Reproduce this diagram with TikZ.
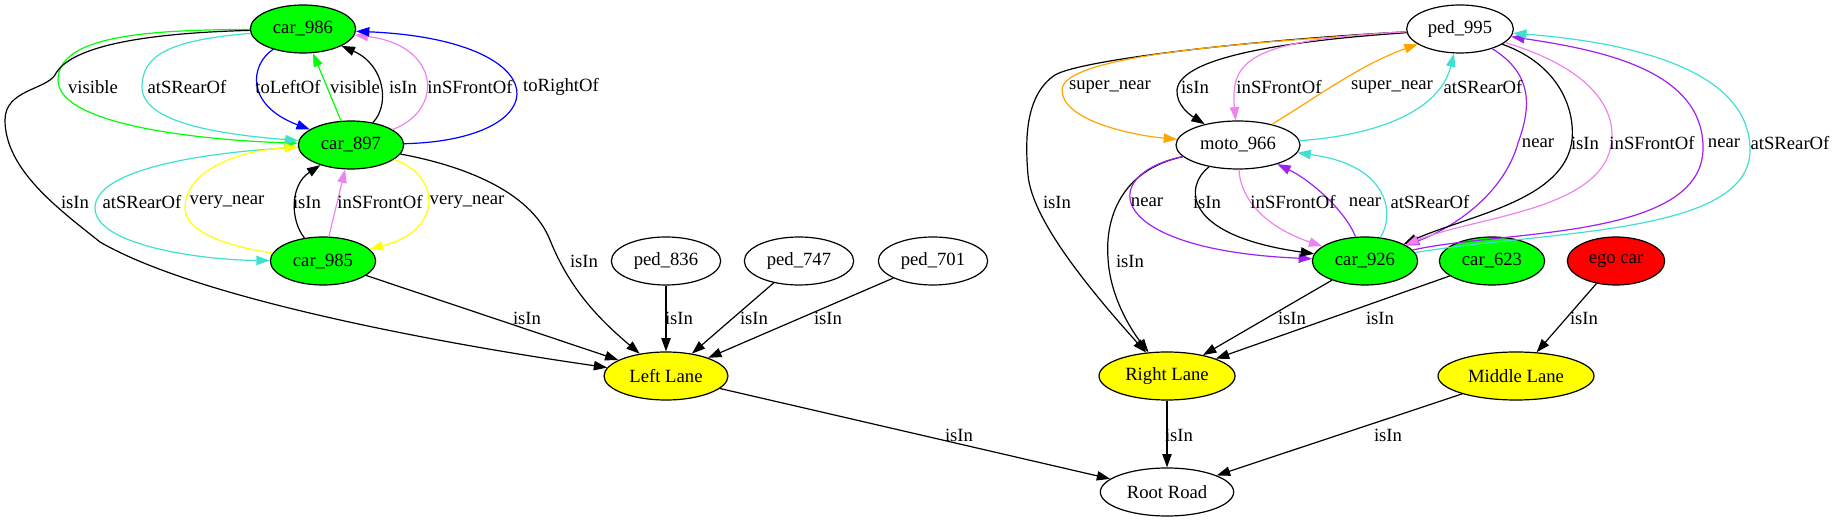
\documentclass[tikz,border=0pt]{standalone}
\usepackage{fontspec}
\setmainfont{Liberation Serif}
\newfontfamily\gvfont{Liberation Serif}
\usetikzlibrary{shapes.geometric,arrows.meta}
\definecolor{ggreen}{HTML}{00FF00}
\definecolor{gturq}{HTML}{40E0D0}
\definecolor{gviolet}{HTML}{EE82EE}
\definecolor{gpurple}{HTML}{A020F0}
\definecolor{gorange}{HTML}{FFA500}
\definecolor{gyellow}{HTML}{FFFF00}
\definecolor{gblue}{HTML}{0000FF}
\definecolor{gred}{HTML}{FF0000}
\tikzset{
  gnode/.style={ellipse, draw=black, line width=0.9pt, minimum height=36pt, inner sep=0pt,
    font=\gvfont\fontsize{14pt}{16pt}\selectfont},
  carnode/.style={gnode, fill=ggreen, minimum width=79pt},
  lanenode/.style={gnode, fill=gyellow},
  lbl/.style={inner sep=0pt, font=\gvfont\fontsize{14pt}{16pt}\selectfont},
  edge/.style={-{Triangle[length=10pt,width=7pt]}, line width=0.9pt},
}
\begin{document}
\begin{tikzpicture}[x=0.75pt,y=-0.75pt]
\useasboundingbox (0,0) rectangle (1835,523);
% nodes
\node[carnode] (c986) at (303,29) {car\_986};
\node[carnode] (c897) at (351,145) {car\_897};
\node[carnode] (c985) at (323,261) {car\_985};
\node[gnode, minimum width=82pt] (p836) at (666,261) {ped\_836};
\node[gnode, minimum width=82pt] (p747) at (799,261) {ped\_747};
\node[gnode, minimum width=82pt] (p701) at (933,261) {ped\_701};
\node[lanenode, minimum width=93pt] (LL) at (666,376) {Left Lane};
\node[gnode, minimum width=80pt] (p995) at (1460,29) {ped\_995};
\node[gnode, minimum width=93pt] (m966) at (1238,145) {moto\_966};
\node[carnode] (c926) at (1365,261) {car\_926};
\node[carnode] (c623) at (1492,261) {car\_623};
\node[gnode, fill=gred, minimum width=73pt] (ego) at (1616,261) {ego car};
\node[lanenode, minimum width=102pt] (RL) at (1167,376) {Right Lane};
\node[lanenode, minimum width=117pt] (ML) at (1516,376) {Middle Lane};
\node[gnode, minimum width=100pt] (RR) at (1167,492) {Root Road};

% left cluster edges
\draw[edge, ggreen] (c986) .. controls (150,30) and (58,35) .. (58,80) .. controls (58,125) and (200,140) .. (c897);
\draw[edge, gturq] (c986) .. controls (170,40) and (142,55) .. (142,87) .. controls (142,125) and (230,135) .. (c897);
\draw[edge, gblue] (c986) .. controls (250,65) and (245,105) .. (c897);
\draw[edge, ggreen] (c897) -- (c986);
\draw[edge, black] (c897) .. controls (390,105) and (385,65) .. (c986);
\draw[edge, gviolet] (c897) .. controls (445,110) and (440,45) .. (c986);
\draw[edge, gblue] (c897) .. controls (560,140) and (560,40) .. (c986);
\draw[edge, black] (c986) .. controls (150,33) and (70,45) .. (55,75) .. controls (45,90) and (5,90) .. (5,120) .. controls (5,170) and (60,210) .. (100,242) .. controls (200,300) and (450,345) .. (LL);
\draw[edge, black] (c897) .. controls (460,165) and (530,190) .. (550,240) .. controls (570,290) and (600,320) .. (LL);
\draw[edge, gturq] (c897) .. controls (200,152) and (95,170) .. (95,208) .. controls (95,245) and (200,260) .. (c985);
\draw[edge, gyellow] (c985) .. controls (220,245) and (185,230) .. (185,208) .. controls (185,170) and (240,150) .. (c897);
\draw[edge, black] (c985) .. controls (290,220) and (290,185) .. (c897);
\draw[edge, gviolet] (c985) -- (c897);
\draw[edge, gyellow] (c897) .. controls (440,175) and (445,230) .. (c985);
\draw[edge, black] (c985) -- (LL);
\draw[edge, black] (p836) -- (LL);
\draw[edge, black] (p747) -- (LL);
\draw[edge, black] (p701) -- (LL);
\draw[edge, black] (LL) -- (RR);

% right cluster edges
\draw[edge, black] (p995) .. controls (1250,40) and (1080,60) .. (1055,75) .. controls (1025,95) and (1025,140) .. (1028,175) .. controls (1032,220) and (1090,290) .. (RL);
\draw[edge, gorange] (p995) .. controls (1250,42) and (1062,55) .. (1062,90) .. controls (1062,120) and (1130,135) .. (m966);
\draw[edge, black] (p995) .. controls (1300,40) and (1180,55) .. (1177,90) .. controls (1176,105) and (1190,115) .. (m966);
\draw[edge, gviolet] (p995) .. controls (1250,40) and (1230,60) .. (m966);
\draw[edge, gorange] (m966) .. controls (1320,95) and (1360,65) .. (p995);
\draw[edge, gturq] (m966) .. controls (1380,135) and (1440,110) .. (p995);
\draw[edge, black] (m966) .. controls (1120,170) and (1105,220) .. (1108,258) .. controls (1110,300) and (1135,335) .. (RL);
\draw[edge, gpurple] (m966) .. controls (1095,175) and (1105,250) .. (c926);
\draw[edge, black] (m966) .. controls (1185,185) and (1180,235) .. (c926);
\draw[edge, gviolet] (m966) .. controls (1240,195) and (1260,225) .. (c926);
\draw[edge, gpurple] (c926) .. controls (1345,210) and (1310,180) .. (m966);
\draw[edge, gturq] (c926) .. controls (1395,215) and (1390,165) .. (m966);
\draw[edge, gpurple] (p995) .. controls (1535,75) and (1530,110) .. (1518,143) .. controls (1505,190) and (1460,225) .. (c926);
\draw[edge, black] (p995) .. controls (1560,65) and (1575,110) .. (1572,140) .. controls (1565,200) and (1470,215) .. (c926);
\draw[edge, gviolet] (p995) .. controls (1580,65) and (1612,100) .. (1612,135) .. controls (1612,210) and (1480,215) .. (c926);
\draw[edge, gpurple] (c926) .. controls (1500,230) and (1700,240) .. (1703,150) .. controls (1705,70) and (1600,50) .. (p995);
\draw[edge, gturq] (c926) .. controls (1550,230) and (1750,235) .. (1750,150) .. controls (1750,60) and (1600,40) .. (p995);
\draw[edge, black] (c926) -- (RL);
\draw[edge, black] (c623) -- (RL);
\draw[edge, black] (ego) -- (ML);
\draw[edge, black] (RL) -- (RR);
\draw[edge, black] (ML) -- (RR);

% labels
\node[lbl] (l1) at (93,87) {visible};
\node[lbl] (l2) at (187,87) {atSRearOf};
\node[lbl] (l3) at (288,87) {toLeftOf};
\node[lbl] (l4) at (355,87) {visible};
\node[lbl] (l5) at (403,87) {isIn};
\node[lbl] (l6) at (470,87) {inSFrontOf};
\node[lbl] (l7) at (561,87) {toRightOf};
\node[lbl] (l8) at (75,202) {isIn};
\node[lbl] (l9) at (142,202) {atSRearOf};
\node[lbl] (l10) at (227,202) {very\_near};
\node[lbl] (l11) at (307,202) {isIn};
\node[lbl] (l12) at (380,202) {inSFrontOf};
\node[lbl] (l13) at (467,202) {very\_near};
\node[lbl] (l14) at (584,261) {isIn};
\node[lbl] (l15) at (527,318) {isIn};
\node[lbl] (l16) at (679,318) {isIn};
\node[lbl] (l17) at (754,318) {isIn};
\node[lbl] (l18) at (828,318) {isIn};
\node[lbl] (l19) at (959,435) {isIn};
\node[lbl] (r1) at (1110,87) {super\_near};
\node[lbl] (r2) at (1195,87) {isIn};
\node[lbl] (r3) at (1279,87) {inSFrontOf};
\node[lbl] (r4) at (1392,87) {super\_near};
\node[lbl] (r5) at (1483,87) {atSRearOf};
\node[lbl] (r6) at (1538,143) {near};
\node[lbl] (r7) at (1585,143) {isIn};
\node[lbl] (r8) at (1652,143) {inSFrontOf};
\node[lbl] (r9) at (1724,143) {near};
\node[lbl] (r10) at (1790,143) {atSRearOf};
\node[lbl] (r11) at (1057,202) {isIn};
\node[lbl] (r12) at (1147,202) {near};
\node[lbl] (r13) at (1207,202) {isIn};
\node[lbl] (r14) at (1293,202) {inSFrontOf};
\node[lbl] (r15) at (1365,202) {near};
\node[lbl] (r16) at (1430,202) {atSRearOf};
\node[lbl] (r17) at (1130,261) {isIn};
\node[lbl] (r18) at (1292,318) {isIn};
\node[lbl] (r19) at (1380,318) {isIn};
\node[lbl] (r20) at (1584,318) {isIn};
\node[lbl] (r21) at (1179,435) {isIn};
\node[lbl] (r22) at (1388,435) {isIn};
\end{tikzpicture}
\end{document}
